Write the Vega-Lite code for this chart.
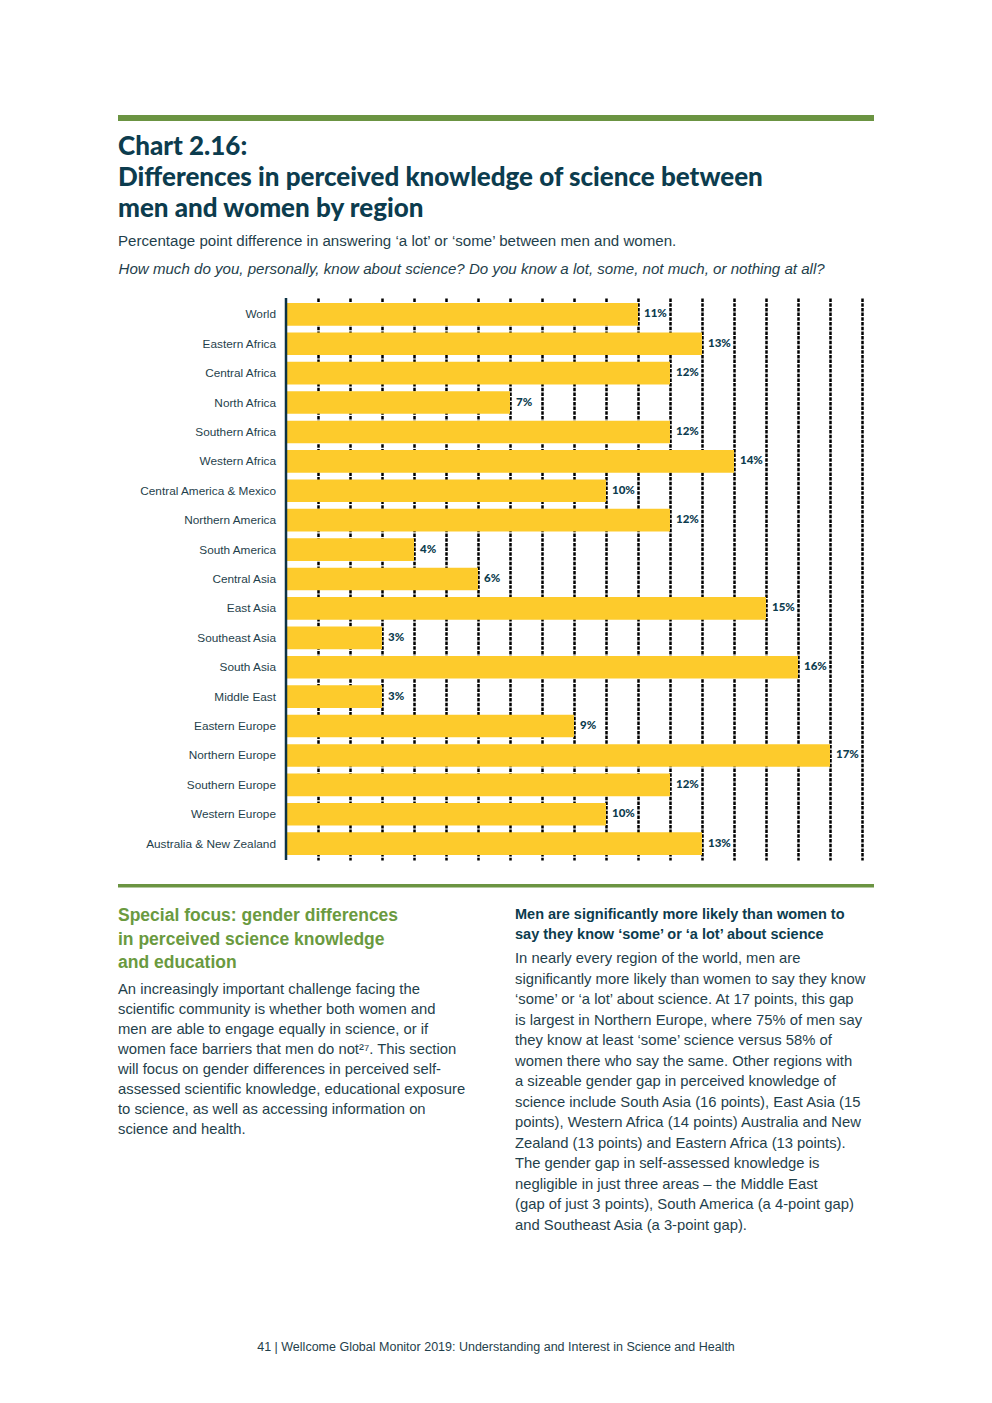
{
  "$schema": "https://vega.github.io/schema/vega-lite/v6.json",
  "padding": {"left": 118, "top": 115, "right": 118, "bottom": 0},
  "background": "white",
  "config": {"view": {"stroke": null}},
  "datasets": {
    "regions": [
      {"region": "World", "v": 0.11},
      {"region": "Eastern Africa", "v": 0.13},
      {"region": "Central Africa", "v": 0.12},
      {"region": "North Africa", "v": 0.07},
      {"region": "Southern Africa", "v": 0.12},
      {"region": "Western Africa", "v": 0.14},
      {"region": "Central America & Mexico", "v": 0.10},
      {"region": "Northern America", "v": 0.12},
      {"region": "South America", "v": 0.04},
      {"region": "Central Asia", "v": 0.06},
      {"region": "East Asia", "v": 0.15},
      {"region": "Southeast Asia", "v": 0.03},
      {"region": "South Asia", "v": 0.16},
      {"region": "Middle East", "v": 0.03},
      {"region": "Eastern Europe", "v": 0.09},
      {"region": "Northern Europe", "v": 0.17},
      {"region": "Southern Europe", "v": 0.12},
      {"region": "Western Europe", "v": 0.10},
      {"region": "Australia & New Zealand", "v": 0.13}
    ],
    "leftHead": [
      {"line": 0, "text": "Special focus: gender differences"},
      {"line": 1, "text": "in perceived science knowledge"},
      {"line": 2, "text": "and education"}
    ],
    "left": [
      {"line": 0, "text": "An increasingly important challenge facing the"},
      {"line": 1, "text": "scientific community is whether both women and"},
      {"line": 2, "text": "men are able to engage equally in science, or if"},
      {"line": 3, "text": "women face barriers that men do not²⁷. This section"},
      {"line": 4, "text": "will focus on gender differences in perceived self-"},
      {"line": 5, "text": "assessed scientific knowledge, educational exposure"},
      {"line": 6, "text": "to science, as well as accessing information on"},
      {"line": 7, "text": "science and health."}
    ],
    "rightHead": [
      {"line": 0, "text": "Men are significantly more likely than women to"},
      {"line": 1, "text": "say they know ‘some’ or ‘a lot’ about science"}
    ],
    "right": [
      {"line": 0, "text": "In nearly every region of the world, men are"},
      {"line": 1, "text": "significantly more likely than women to say they know"},
      {"line": 2, "text": "‘some’ or ‘a lot’ about science. At 17 points, this gap"},
      {"line": 3, "text": "is largest in Northern Europe, where 75% of men say"},
      {"line": 4, "text": "they know at least ‘some’ science versus 58% of"},
      {"line": 5, "text": "women there who say the same. Other regions with"},
      {"line": 6, "text": "a sizeable gender gap in perceived knowledge of"},
      {"line": 7, "text": "science include South Asia (16 points), East Asia (15"},
      {"line": 8, "text": "points), Western Africa (14 points) Australia and New"},
      {"line": 9, "text": "Zealand (13 points) and Eastern Africa (13 points)."},
      {"line": 10, "text": "The gender gap in self-assessed knowledge is"},
      {"line": 11, "text": "negligible in just three areas – the Middle East"},
      {"line": 12, "text": "(gap of just 3 points), South America (a 4-point gap)"},
      {"line": 13, "text": "and Southeast Asia (a 3-point gap)."}
    ],
    "footer": [
      {"text": "41  |  Wellcome Global Monitor 2019: Understanding and Interest in Science and Health"}
    ]
  },
  "spacing": 22,
  "vconcat": [
    {
      "spacing": 13,
      "vconcat": [
        {
          "data": {"values": [{}]},
          "width": 756,
          "height": 6,
          "mark": {"type": "rect", "color": "#6b9442"},
          "encoding": {
            "x": {"datum": 0, "type": "quantitative", "scale": {"domain": [0, 1]}, "axis": null},
            "x2": {"datum": 1},
            "y": {"datum": 0, "type": "quantitative", "scale": {"domain": [0, 1]}, "axis": null},
            "y2": {"datum": 1}
          }
        },
        {
          "data": {"name": "regions"},
          "width": 756,
          "height": 562,
          "title": {
            "text": ["Chart 2.16:", "Differences in perceived knowledge of science between", "men and women by region"],
            "subtitle": "Percentage point difference in answering ‘a lot’ or ‘some’ between men and women.",
            "anchor": "start",
            "font": "Lato",
            "fontSize": 26,
            "fontWeight": 900,
            "lineHeight": 31,
            "color": "#0c3c4e",
            "subtitleFont": "Liberation Sans",
            "subtitleFontSize": 15.1,
            "subtitleColor": "#1f3f4c",
            "subtitlePadding": 12,
            "offset": 12
          },
          "layer": [
            {
              "mark": {"type": "bar", "color": "#fdcb2c"},
              "encoding": {
                "y": {"field": "region", "type": "nominal", "sort": null, "axis": null, "scale": {"paddingInner": 0.23, "paddingOuter": 0.17}},
                "x": {
                  "field": "v",
                  "type": "quantitative",
                  "scale": {"domain": [-0.0525, 0.18375], "nice": false, "zero": false},
                  "axis": {
                    "orient": "top",
                    "values": [0.01, 0.02, 0.03, 0.04, 0.05, 0.06, 0.07, 0.08, 0.09, 0.1, 0.11, 0.12, 0.13, 0.14, 0.15, 0.16, 0.17, 0.18],
                    "labels": false,
                    "ticks": false,
                    "domain": false,
                    "grid": true,
                    "gridColor": "#000000",
                    "gridWidth": 2.5,
                    "gridDash": [3.5, 1.2],
                    "gridOpacity": 1,
                    "title": "How much do you, personally, know about science? Do you know a lot, some, not much, or nothing at all?",
                    "titleFont": "Liberation Sans",
                    "titleFontSize": 15.1,
                    "titleFontStyle": "italic",
                    "titleFontWeight": "normal",
                    "titleColor": "#1f3f4c",
                    "titleAnchor": "start",
                    "titleAlign": "left",
                    "titlePadding": 21.5
                  }
                }
              }
            },
            {
              "mark": {"type": "text", "align": "right", "baseline": "middle", "dx": -10, "font": "Liberation Sans", "fontSize": 11.8, "color": "#1f3f4c"},
              "encoding": {
                "y": {"field": "region", "type": "nominal", "sort": null},
                "x": {"datum": 0},
                "text": {"field": "region", "type": "nominal"}
              }
            },
            {
              "mark": {"type": "text", "align": "left", "baseline": "middle", "dx": 6, "font": "Lato", "fontWeight": 900, "fontSize": 11.5, "color": "#0c3c4e"},
              "encoding": {
                "y": {"field": "region", "type": "nominal", "sort": null},
                "x": {"field": "v", "type": "quantitative"},
                "text": {"field": "v", "type": "quantitative", "format": ".0%"}
              }
            },
            {
              "data": {"values": [{}]},
              "mark": {"type": "rule", "color": "#0d3345", "strokeWidth": 2.5},
              "encoding": {"x": {"datum": 0}}
            }
          ]
        }
      ]
    },
    {
      "spacing": 13.5,
      "vconcat": [
        {
          "data": {"values": [{}]},
          "width": 756,
          "height": 3.5,
          "mark": {"type": "rect", "color": "#6b9442"},
          "encoding": {
            "x": {"datum": 0, "type": "quantitative", "scale": {"domain": [0, 1]}, "axis": null},
            "x2": {"datum": 1},
            "y": {"datum": 0, "type": "quantitative", "scale": {"domain": [0, 1]}, "axis": null},
            "y2": {"datum": 1}
          }
        },
        {
          "spacing": 27,
          "hconcat": [
            {
              "width": 370,
              "height": 240,
              "layer": [
                {
                  "data": {"name": "leftHead"},
                  "mark": {"type": "text", "align": "left", "baseline": "alphabetic", "font": "Liberation Sans", "fontSize": 17.5, "fontWeight": "bold", "color": "#6a9a3f"},
                  "encoding": {
                    "x": {"datum": 0, "type": "quantitative", "scale": {"domain": [0, 1]}, "axis": null},
                    "y": {"field": "line", "type": "quantitative", "scale": {"domain": [-0.83, 9.383], "reverse": true}, "axis": null},
                    "text": {"field": "text", "type": "nominal"}
                  }
                },
                {
                  "data": {"name": "left"},
                  "mark": {"type": "text", "align": "left", "baseline": "alphabetic", "font": "Liberation Sans", "fontSize": 14.8, "color": "#1f3f4c"},
                  "encoding": {
                    "x": {"datum": 0, "type": "quantitative"},
                    "y": {"field": "line", "type": "quantitative", "scale": {"domain": [-4.6, 7.4], "reverse": true}, "axis": null},
                    "text": {"field": "text", "type": "nominal"}
                  }
                }
              ],
              "resolve": {"scale": {"y": "independent"}}
            },
            {
              "width": 359,
              "height": 340,
              "layer": [
                {
                  "data": {"name": "rightHead"},
                  "mark": {"type": "text", "align": "left", "baseline": "alphabetic", "font": "Liberation Sans", "fontSize": 14.5, "fontWeight": "bold", "color": "#0c3c4e"},
                  "encoding": {
                    "x": {"datum": 0, "type": "quantitative", "scale": {"domain": [0, 1]}, "axis": null},
                    "y": {"field": "line", "type": "quantitative", "scale": {"domain": [-0.885, 16.115], "reverse": true}, "axis": null},
                    "text": {"field": "text", "type": "nominal"}
                  }
                },
                {
                  "data": {"name": "right"},
                  "mark": {"type": "text", "align": "left", "baseline": "alphabetic", "font": "Liberation Sans", "fontSize": 14.8, "color": "#1f3f4c"},
                  "encoding": {
                    "x": {"datum": 0, "type": "quantitative"},
                    "y": {"field": "line", "type": "quantitative", "scale": {"domain": [-3.008, 13.569], "reverse": true}, "axis": null},
                    "text": {"field": "text", "type": "nominal"}
                  }
                }
              ],
              "resolve": {"scale": {"y": "independent"}}
            }
          ]
        }
      ]
    },
    {
      "data": {"name": "footer"},
      "width": 756,
      "height": 166,
      "mark": {"type": "text", "align": "center", "baseline": "middle", "font": "Liberation Sans", "fontSize": 12.5, "color": "#1f3f4c"},
      "encoding": {"text": {"field": "text", "type": "nominal"}}
    }
  ]
}
